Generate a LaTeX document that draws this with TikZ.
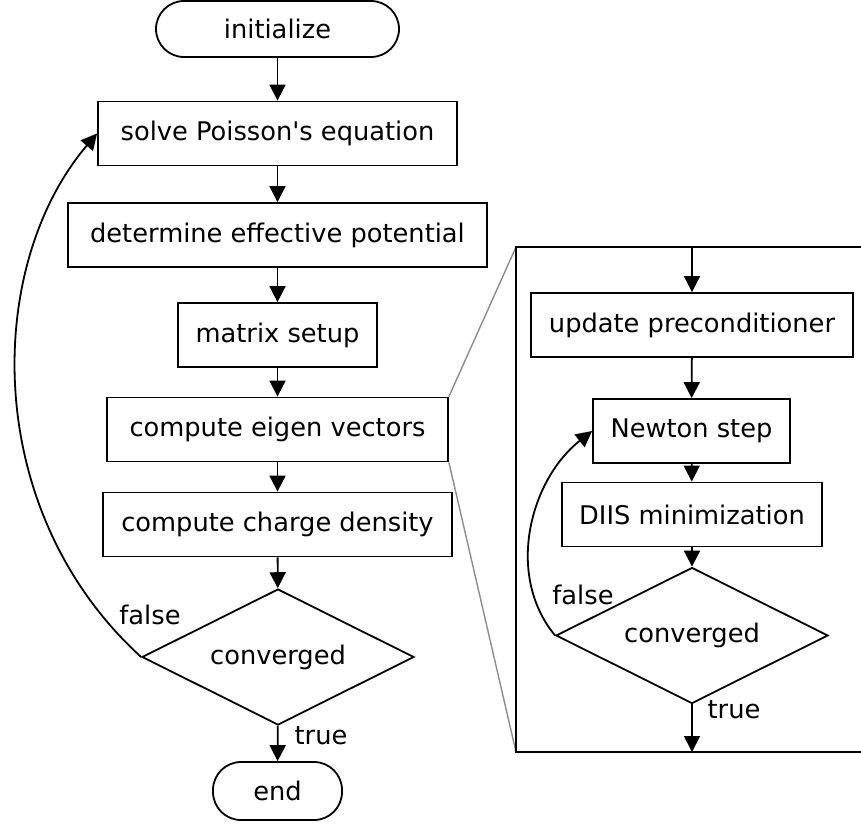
\documentclass[tikz,border=0pt]{standalone}
\usepackage{fontspec}
\setmainfont{DejaVu Sans}[Ligatures=TeXOff]
\usetikzlibrary{arrows.meta,shapes.geometric}

\begin{document}
\begin{tikzpicture}[x=1pt,y=-1pt,
  every node/.style={font=\fontsize{25.7}{30}\selectfont},
  box/.style={draw,line width=1.8pt,inner sep=0pt,minimum height=64pt},
  term/.style={draw,line width=1.8pt,rounded corners=28pt,inner sep=0pt},
  decision/.style={draw,diamond,aspect=2,line width=1.8pt,inner sep=0pt,
    minimum width=272pt,minimum height=136pt},
  lbl/.style={inner sep=0pt},
  arr/.style={-{Triangle[length=16pt,width=16pt]},line width=1.8pt},
  zoomline/.style={draw=black!45,line width=1.4pt}]

\useasboundingbox (0,0) rectangle (861,825);

% main loop
\node[term,minimum width=243pt,minimum height=56pt] (init) at (277.5,29) {initialize};
\node[box,minimum width=359pt] (solve) at (277.5,133.5) {solve Poisson's equation};
\node[box,minimum width=419pt] (pot)   at (277.5,235) {determine effective potential};
\node[box,minimum width=199pt] (mat)   at (277.5,335) {matrix setup};
\node[box,minimum width=341pt] (eig)   at (277.5,429.5) {compute eigen vectors};
\node[box,minimum width=349pt] (rho)   at (277.5,524.5) {compute charge density};
\node[decision] (conv) at (278,657) {converged};
\node[term,minimum width=129pt,minimum height=58pt] (fin) at (277.5,791) {end};

\node[lbl] (f1) at (150,615) {false};
\node[lbl] (t1) at (321,736) {true};

\draw[arr] (init) -- (solve);
\draw[arr] (solve) -- (pot);
\draw[arr] (pot) -- (mat);
\draw[arr] (mat) -- (eig);
\draw[arr] (eig) -- (rho);
\draw[arr] (rho) -- (conv);
\draw[arr] (conv) -- (fin);
\draw[arr] (conv.west) .. controls (-20,510) and (-15,265) .. (solve.west);

% detail of the eigen solver
\coordinate (ftl) at (516,247);
\coordinate (fbl) at (516,752);
\coordinate (ftr) at (875,247);
\coordinate (fbr) at (875,752);
\coordinate (fin2) at (692,247);
\coordinate (fout2) at (692,752);

\draw[zoomline] (eig.north east) -- (ftl);
\draw[zoomline] (eig.south east) -- (fbl);
\draw[line width=1.8pt] (ftr) -- (ftl) -- (fbl) -- (fbr);

\node[box,minimum width=322pt] (upd)  at (692,325) {update preconditioner};
\node[box,minimum width=197pt] (newt) at (691.5,431) {Newton step};
\node[box,minimum width=260pt] (diis) at (692,514.5) {DIIS minimization};
\node[decision] (conv2) at (692,635.5) {converged};

\node[lbl] (f2) at (583,595) {false};
\node[lbl] (t2) at (734,710) {true};

\draw[arr] (fin2) -- (upd);
\draw[arr] (upd) -- (newt);
\draw[arr] (newt) -- (diis);
\draw[arr] (diis) -- (conv2);
\draw[arr] (conv2) -- (fout2);
\draw[arr] (conv2.west) .. controls (505,575) and (530,480) .. (newt.west);
\end{tikzpicture}
\end{document}
